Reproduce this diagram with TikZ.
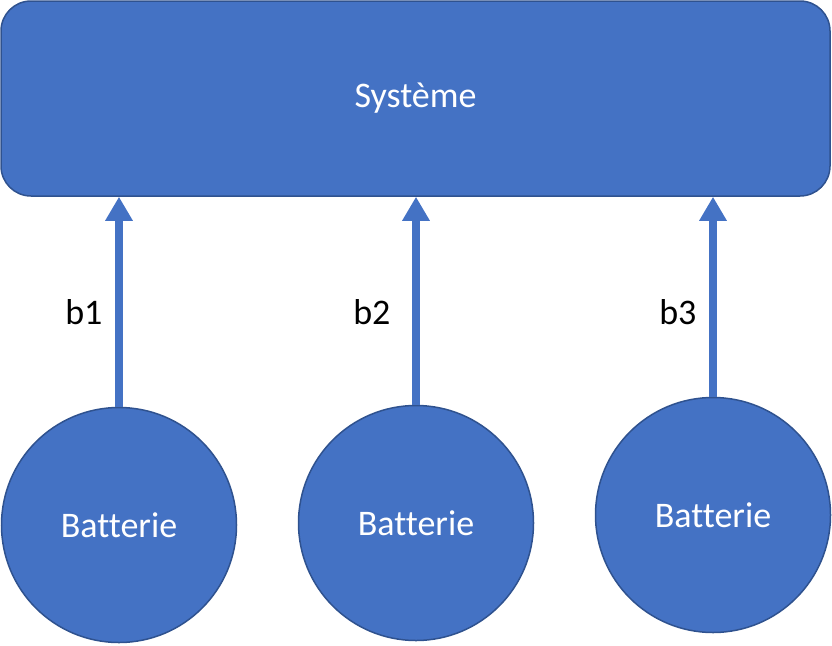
\documentclass[tikz,border=0pt]{standalone}
\usepackage{fontspec}
\setmainfont[Ligatures=NoCommon]{Carlito}
\usepackage{xcolor}
\usetikzlibrary{arrows.meta}
\usetikzlibrary{positioning}
\definecolor{bleu}{HTML}{4472C4}
\definecolor{bord}{HTML}{2F528F}

\begin{document}
\begin{tikzpicture}[x=1pt,y=-1pt,
          sysbox/.style={draw=bord,fill=bleu,line width=1.5pt,rounded corners=30pt,
            minimum width=829pt,minimum height=195pt,text=white,font=\fontsize{36}{43}\selectfont},
          batt/.style={circle,draw=bord,fill=bleu,line width=1.5pt,minimum size=235pt,
            text=white,font=\fontsize{36}{43}\selectfont},
          lien/.style={draw=bleu,line width=8pt,-{Triangle[width=26pt,length=24pt]}},
          lab/.style={font=\fontsize{36}{43}\selectfont}]
          \useasboundingbox (0,0) rectangle (832,645);
          \node[sysbox](sys) at (415.5,98.5){Système};
          \node[batt](c1) at (119,525){Batterie};
          \node[batt](c2) at (416,523){Batterie};
          \node[batt](c3) at (713,515){Batterie};
          \draw[lien](c1.north) -- (c1.north |- sys.south);
          \draw[lien](c2.north) -- (c2.north |- sys.south);
          \draw[lien](c3.north) -- (c3.north |- sys.south);
          \node[lab,left=13pt](lb1) at (c1.north |- 0,312){b1};
          \node[lab,left=22pt](lb2) at (c2.north |- 0,312){b2};
          \node[lab,left=13pt](lb3) at (c3.north |- 0,312){b3};
        \end{tikzpicture}
\end{document}
